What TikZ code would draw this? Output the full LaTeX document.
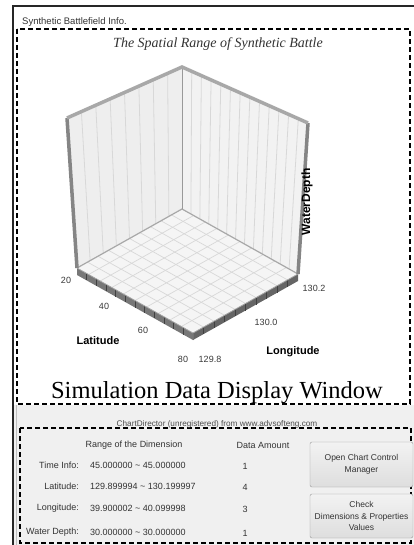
\documentclass[tikz,border=0pt]{standalone}
\usepackage{fontspec}
\setmainfont{Liberation Serif}
\setsansfont{Liberation Sans}
\usetikzlibrary{calc}
\definecolor{panelbg}{HTML}{F0F0F0}
\definecolor{wallL}{HTML}{EEEEEE}
\definecolor{wallR}{HTML}{F2F2F2}
\definecolor{floorc}{HTML}{F5F5F5}
\definecolor{gridc}{HTML}{D8D8D8}
\definecolor{edgetop}{HTML}{A8A8A8}
\definecolor{edgeside}{HTML}{858585}
\definecolor{rimL}{HTML}{777777}
\definecolor{rimR}{HTML}{656565}
\definecolor{uitext}{HTML}{333333}
\begin{document}
\begin{tikzpicture}[x=1pt,y=-1pt,
  uitxt/.style={font=\sffamily\fontsize{9}{10}\selectfont, text=uitext, inner sep=0pt},
  axlbl/.style={font=\sffamily\fontsize{9}{10}\selectfont, text=black!78, inner sep=0pt},
  axtitle/.style={font=\sffamily\bfseries\fontsize{11}{12}\selectfont, inner sep=0pt},
  btnbox/.style={draw=black!40, rounded corners=2pt, top color=white!95!black, bottom color=black!13,
    minimum width=103pt, align=center, font=\sffamily\fontsize{8.5}{12}\selectfont, text=uitext, inner sep=1pt},
  dashframe/.style={line width=1.7pt, dash pattern=on 5pt off 3pt},
  wallgrid/.style={gridc, line width=0.8pt},
  floorgrid/.style={gridc, line width=0.7pt},
  rimtick/.style={black!75, line width=0.9pt}
]
\useasboundingbox (0,0) rectangle (414,545);
\fill[white] (0,0) rectangle (414,545);
% lower panel background
\fill[panelbg] (14,405) rectangle (414,545);
\draw[black!25, line width=0.6pt] (16.5,405) -- (16.5,545);
% outer window border
\draw[black!85, line width=1.2pt] (13,545) -- (13,6) -- (414,6);

% ---------- chart ----------
\coordinate (TL) at (67,118);
\coordinate (A)  at (182,67);
\coordinate (TR) at (308,123);
\coordinate (B)  at (182,209);
\coordinate (L)  at (77,268);
\coordinate (R)  at (298,274);
\coordinate (F)  at (193,333);

% walls
\fill[wallL] (TL) -- (A) -- (B) -- (L) -- cycle;
\fill[wallR] (A) -- (TR) -- (R) -- (B) -- cycle;
\foreach \i in {1,...,7} {\draw[wallgrid] ($(TL)!{\i/8}!(A)$) -- ($(L)!{\i/8}!(B)$);}
\foreach \i in {1,...,12} {\draw[wallgrid] ($(A)!{\i/13}!(TR)$) -- ($(B)!{\i/13}!(R)$);}
% floor
\fill[floorc] (B) -- (L) -- (F) -- (R) -- cycle;
\foreach \i in {1,...,9} {
  \draw[floorgrid] ($(B)!{\i/10}!(R)$) -- ($(L)!{\i/10}!(F)$);
  \draw[floorgrid] ($(B)!{\i/10}!(L)$) -- ($(R)!{\i/10}!(F)$);
}
\draw[edgetop, line width=1.2pt] (L) -- (B) -- (R);
\draw[black!40, line width=1pt] (A) -- (B);
% rim
\fill[rimL] (L) -- (F) -- ($(F)+(0,7)$) -- ($(L)+(0,7)$) -- cycle;
\fill[rimR] (F) -- (R) -- ($(R)+(0,7)$) -- ($(F)+(0,7)$) -- cycle;
\foreach \i in {1,...,11} {\draw[rimtick] ($(L)!{\i/12}!(F)$) -- ++(0,7);}
\foreach \i in {1,...,9} {\draw[rimtick] ($(F)!{\i/10}!(R)$) -- ++(0,7);}
\draw[black!35, line width=0.8pt] (L) -- (F) -- (R);
\draw[black!55, line width=0.8pt] (F) -- ++(0,7);
% thick wall edges
\draw[edgeside, line width=3.5pt] (L) -- (TL);
\draw[edgeside, line width=3.5pt] (R) -- (TR);
\draw[edgetop, line width=3.5pt, line join=miter] (TL) -- (A) -- (TR);

% axis labels
\node[axlbl] (l20) at (66,280) {20};
\node[axlbl] (l40) at (104,306) {40};
\node[axlbl] (l60) at (143,330) {60};
\node[axlbl] (l80) at (183,359) {80};
\node[axlbl] (g298) at (210,359) {129.8};
\node[axlbl] (g300) at (266,322) {130.0};
\node[axlbl] (g302) at (314,288) {130.2};
\node[axtitle] (lat) at (98,341) {Latitude};
\node[axtitle] (lon) at (293,352) {Longitude};
\node[axtitle, font=\sffamily\bfseries\fontsize{12}{13}\selectfont, rotate=90] (wd) at (307,202) {WaterDepth};

% titles
\node[font=\itshape\fontsize{14}{16}\selectfont, text=black!80, inner sep=0pt] (title) at (218,44)
  {The Spatial Range of Synthetic Battle};
\node[font=\fontsize{24.5}{26}\selectfont, inner sep=0pt, anchor=base] (sdw) at (217,398)
  {Simulation Data Display Window};

% upper dashed frame
\draw[dashframe] (17,29) rectangle (410,404);
\node[font=\sffamily\fontsize{9.5}{10}\selectfont, text=uitext, anchor=base west, inner sep=0pt] (grp) at (22,25)
  {Synthetic Battlefield Info.};

% lower dashed frame
\draw[dashframe] (20,428) rectangle (411,543);
\node[font=\sffamily\fontsize{8.2}{9}\selectfont, text=black!70, inner sep=0pt] (cd) at (217,424)
  {ChartDirector (unregistered) from www.advsofteng.com};

% table
\node[uitxt] (h1) at (134,445) {Range of the Dimension};
\node[uitxt] (h2) at (263,445) {Data Amount};
\node[uitxt, anchor=east] (k1) at (79,465) {Time Info:};
\node[uitxt, anchor=east] (k2) at (79,486) {Latitude:};
\node[uitxt, anchor=east] (k3) at (79,508) {Longitude:};
\node[uitxt, anchor=east] (k4) at (79,532) {Water Depth:};
\node[uitxt, anchor=west] (v1) at (90,465) {45.000000 \textasciitilde\ 45.000000};
\node[uitxt, anchor=west] (v2) at (90,486) {129.899994 \textasciitilde\ 130.199997};
\node[uitxt, anchor=west] (v3) at (90,508) {39.900002 \textasciitilde\ 40.099998};
\node[uitxt, anchor=west] (v4) at (90,532) {30.000000 \textasciitilde\ 30.000000};
\node[uitxt] (n1) at (245,466) {1};
\node[uitxt] (n2) at (245,487) {4};
\node[uitxt] (n3) at (245,509) {3};
\node[uitxt] (n4) at (245,533) {1};

% buttons
\node[btnbox, minimum height=45pt] (b1) at (361.5,464.5) {Open Chart Control\\Manager};
\node[btnbox, minimum height=44pt, font=\sffamily\fontsize{8.5}{11.5}\selectfont] (b2) at (361.5,516)
  {Check\\Dimensions \& Properties\\Values};
\end{tikzpicture}
\end{document}
